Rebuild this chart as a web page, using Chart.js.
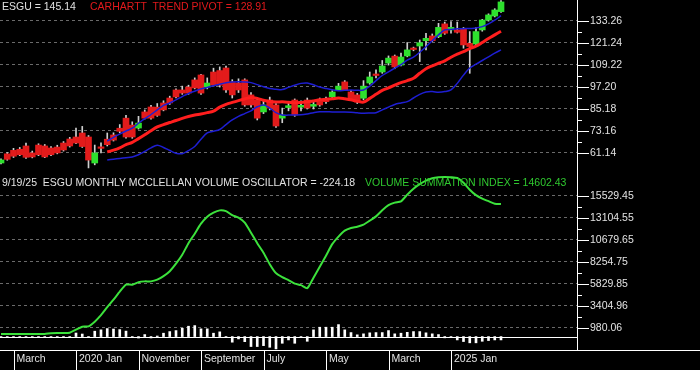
<!DOCTYPE html>
<html>
<head>
<meta charset="utf-8">
<title>ESGU monthly</title>
<script src="https://cdn.jsdelivr.net/npm/chart.js@4.4.1/dist/chart.umd.min.js"></script>
<style>
  html, body { margin: 0; padding: 0; background: #000; }
  #wrap { position: relative; width: 700px; height: 370px; overflow: hidden; background: #000;
          font-family: Arial, "Liberation Sans", sans-serif; }
  #priceChart { position: absolute; left: 0; top: 0; }
  #volChart { position: absolute; left: 0; top: 172px; }
  .cap { position: absolute; font-size: 10.5px; line-height: 12px; white-space: pre; }
</style>
</head>
<body>
<div id="wrap">
  <canvas id="priceChart" width="700" height="172"></canvas>
  <canvas id="volChart" width="700" height="198"></canvas>
  <div class="cap" style="left:2px;top:0px;color:#e2e2e2">ESGU = 145.14</div>
  <div class="cap" style="left:90px;top:0px;color:#e3191c">CARHARTT  TREND PIVOT = 128.91</div>
  <div class="cap" style="left:2px;top:176px;color:#e2e2e2">9/19/25  ESGU MONTHLY MCCLELLAN VOLUME OSCILLATOR = -224.18</div>
  <div class="cap" style="left:365px;top:176px;color:#2fc82f">VOLUME SUMMATION INDEX = 14602.43</div>
</div>
<script>
// Monthly bars, Jan 2019 .. Sep 2025
const months = [];
for (let i = 0; i < 81; i++) {
  months.push((2019 + Math.floor(i / 12)) + '-' + String(i % 12 + 1).padStart(2, '0'));
}

const xTickMonths = [2, 12, 22, 32, 42, 52, 62, 72];
const xTickLabels = ['March', '2020 Jan', 'November', 'September', 'July', 'May', 'March', '2025 Jan'];

const priceTicks = [61.14, 73.16, 85.18, 97.20, 109.22, 121.24, 133.26];
const priceTickLabels = ['61.14', '73.16', '85.18', '97.20', '109.22', '121.24', '133.26'];
const volTicks = [980.06, 3404.96, 5829.85, 8254.75, 10679.65, 13104.55, 15529.45];
const volTickLabels = ['980.06', '3404.96', '5829.85', '8254.75', '10679.65', '13104.55', '15529.45'];

const opens = [
  55.5, 60.5, 62.4, 63.0, 64.8, 61.0, 65.3, 64.8, 63.7, 64.2,
  66.4, 68.6, 69.7, 71.9, 69.7, 55.5, 64.0, 68.5, 70.8, 74.5,
  80.0, 76.2, 74.6, 83.4, 86.1, 86.0, 88.3, 91.0, 95.4, 95.4,
  97.0, 100.9, 103.6, 97.0, 105.2, 106.0, 107.4, 99.8, 99.2, 100.9,
  92.7, 89.9, 83.4, 89.9, 87.2, 80.0, 85.8, 89.9, 86.0, 89.9,
  86.5, 89.9, 90.5, 91.6, 95.4, 99.8, 94.3, 92.7, 90.9, 99.2,
  103.9, 105.2, 110.1, 113.9, 109.0, 114.0, 118.1, 119.4, 122.3, 124.9,
  124.5, 131.5, 128.2, 128.2, 128.6, 120.9, 120.5, 128.2, 133.6, 135.8,
  138.2
];
const highs = [
  57.8, 61.2, 63.5, 64.0, 66.4, 62.0, 66.0, 65.6, 64.5, 65.2,
  67.2, 69.5, 74.6, 75.5, 70.5, 65.3, 66.5, 71.9, 72.0, 76.5,
  81.5, 78.0, 81.0, 84.5, 87.0, 88.0, 89.5, 92.0, 96.0, 97.5,
  98.0, 102.0, 104.0, 102.0, 107.3, 108.0, 108.5, 101.0, 101.5, 101.5,
  94.0, 91.0, 90.0, 91.5, 88.0, 85.5, 89.0, 90.5, 89.5, 91.0,
  89.0, 91.0, 91.5, 95.0, 99.0, 100.5, 95.0, 93.5, 100.5, 105.2,
  106.4, 111.5, 114.0, 114.5, 115.5, 121.3, 118.8, 122.7, 126.4, 126.0,
  131.8, 132.5, 132.7, 132.5, 129.5, 127.3, 129.5, 134.0, 137.0, 139.8,
  144.3
];
const lows = [
  55.0, 57.0, 58.5, 59.5, 58.0, 58.3, 59.5, 58.4, 59.5, 60.5,
  62.0, 64.2, 66.0, 64.0, 52.8, 54.5, 61.0, 64.8, 67.5, 72.0,
  69.0, 69.0, 74.0, 79.5, 79.5, 81.0, 84.0, 87.5, 91.0, 93.0,
  93.0, 96.0, 93.0, 96.0, 97.5, 97.0, 94.0, 91.0, 94.0, 86.5,
  86.0, 79.0, 82.5, 84.5, 75.0, 77.5, 84.0, 81.0, 84.0, 85.0,
  85.0, 86.5, 88.0, 91.0, 95.0, 95.0, 89.5, 88.0, 90.0, 98.5,
  102.0, 104.5, 109.0, 107.0, 108.5, 113.5, 116.8, 110.9, 117.3, 121.8,
  124.0, 125.8, 126.4, 126.5, 118.2, 104.5, 120.0, 127.5, 133.0, 135.3,
  137.8
];
const closes = [
  57.2, 57.5, 59.2, 60.0, 58.6, 58.8, 60.0, 58.8, 60.0, 61.0,
  62.6, 64.8, 66.4, 64.5, 57.1, 61.0, 63.5, 65.5, 68.0, 72.8,
  69.7, 69.7, 77.3, 80.0, 80.0, 81.5, 84.5, 88.3, 91.6, 93.7,
  93.7, 96.5, 93.7, 99.2, 98.1, 98.0, 95.4, 92.7, 95.4, 87.2,
  87.2, 80.0, 87.2, 85.5, 75.7, 81.7, 86.8, 81.7, 87.0, 85.5,
  87.5, 87.2, 89.0, 94.3, 97.5, 95.4, 90.0, 88.8, 97.5, 102.5,
  103.3, 108.5, 112.8, 108.0, 113.4, 117.3, 117.5, 121.2, 123.6, 122.3,
  129.6, 126.4, 129.6, 126.9, 120.0, 119.1, 127.3, 133.6, 136.4, 139.1,
  143.5
];

// Trend pivot and bands start with the Jun 2020 bar
const bandStart = 17;
const trendPivot = [
  61.5, 62.5, 63.8, 65.5, 66.8, 68.8, 70.9, 73.1, 75.2, 76.5, 77.6, 78.7, 79.9, 80.9, 81.7, 82.3,
  83.0, 83.8, 86.0, 87.5, 88.6, 89.6, 90.5, 91.3, 90.8, 89.8, 89.1, 88.8, 88.9, 88.7, 88.4, 88.6,
  88.9, 89.4, 90.0, 90.3, 90.6, 91.0, 90.6, 90.0, 89.3, 88.8, 90.8, 93.0, 95.2, 96.5, 98.0, 99.4,
  100.5, 101.8, 104.5, 107.0, 108.6, 110.0, 111.3, 113.3, 115.0, 116.3, 118.0, 119.3, 121.3, 123.5, 125.5, 127.5
];
const upperBand = [
  67.5, 69.5, 71.3, 73.0, 74.5, 77.2, 79.7, 82.0, 84.5, 87.0, 88.3, 90.0, 91.8, 93.5, 94.7, 96.0,
  96.8, 97.7, 98.5, 99.3, 99.8, 99.9, 99.8, 99.4, 98.3, 97.2, 96.2, 95.8, 95.6, 96.8, 98.0, 99.0,
  99.2, 98.2, 97.0, 96.2, 95.5, 95.0, 95.2, 95.4, 95.2, 95.4, 97.5, 100.5, 103.3, 105.3, 107.3, 109.3,
  111.7, 113.3, 116.0, 119.0, 122.3, 125.5, 128.2, 128.5, 128.8, 128.9, 129.0, 129.2, 130.0, 131.5, 133.5, 136.0
];
const lowerBand = [
  57.2, 57.6, 58.0, 58.4, 58.8, 60.0, 61.8, 63.8, 65.2, 64.0, 62.3, 60.8, 60.6, 62.3, 64.5, 68.5,
  71.9, 72.8, 73.8, 76.5, 79.0, 81.0, 82.5, 84.0, 86.2, 87.2, 85.5, 83.0, 81.7, 81.7, 81.7, 81.8,
  82.3, 83.0, 83.5, 83.5, 83.4, 83.4, 83.4, 83.2, 82.9, 82.7, 82.8, 83.0, 84.5, 86.0, 87.5, 88.3,
  89.0, 91.0, 93.0, 94.3, 94.5, 94.2, 94.5, 95.5, 99.0, 103.5, 107.4, 109.5, 111.5, 113.5, 115.5, 117.3
];

const volumeSummation = [
  286, 286, 286, 286, 286, 286, 286, 286, 374, 395,
  395, 430, 760, 1090, 1123, 1641, 2358, 3240, 4066, 4948,
  5720, 5720, 5995, 6083, 6083, 6270, 6656, 7207, 8034, 9026,
  10293, 11340, 12442, 13214, 13655, 13908, 13820, 13379, 13104, 12553,
  11451, 10293, 9246, 7979, 6987, 6546, 6215, 5830, 5664, 5334,
  6491, 7703, 8916, 10183, 11010, 11671, 11969, 12112, 12332, 12773,
  13247, 13930, 14481, 14758, 14901, 15639, 16300, 16796, 17182, 17457,
  17568, 17590, 17568, 17480, 16962, 16190, 15584, 15198, 14922, 14647,
  14602
];
const oscillator = [
  -110, -110, -110, -110, -110, -110, -110, -110, -110, -110,
  -110, -110, 390, 280, -110, 590, 740, 880, 830, 770,
  600, -80, -160, 220, -150, 60, 370, 550, 660, 920,
  1140, 1210, 850, 850, 370, 520, -60, -620, -260, -560,
  -1100, -1100, -1000, -1180, -1360, -740, -370, -740, -110, -520,
  740, 1030, 1030, 1030, 1320, 740, 440, 190, 300, 410,
  440, 440, 660, 300, 370, 470, 550, 550, 410, 300,
  220, -140, -80, -370, -550, -690, -690, -520, -440, -370,
  -370
];

const FONT = 'Arial, "Liberation Sans", sans-serif';
Chart.defaults.font.family = FONT;

// right-hand tick marks, zero line, bottom axis line and date separators
const axisMarks = {
  id: 'axisMarks',
  afterDraw(chart, args, opts) {
    const ctx = chart.ctx;
    const area = chart.chartArea;
    const ys = chart.scales.y;
    const r = Math.round(area.right);
    ctx.save();
    ctx.strokeStyle = '#ffffff';
    ctx.lineWidth = 1;
    ctx.beginPath();
    opts.ticks.forEach(function(v, k) {
      const p = Math.round(ys.getPixelForValue(v)) + 0.5;
      ctx.moveTo(r, p);
      ctx.lineTo(r + 12, p);
      if (k + 1 < opts.ticks.length) {
        const m = Math.round(ys.getPixelForValue((v + opts.ticks[k + 1]) / 2)) + 0.5;
        ctx.moveTo(r, m);
        ctx.lineTo(r + 5, m);
      }
    });
    if (opts.zeroLine) {
      const z = Math.round(ys.getPixelForValue(0)) + 0.5;
      ctx.moveTo(area.left, z);
      ctx.lineTo(r, z);
    }
    if (opts.dateTicks) {
      const xs = chart.scales.x;
      const b = Math.round(area.bottom) + 0.5;
      ctx.moveTo(0, b);
      ctx.lineTo(chart.width, b);
      opts.dateTicks.forEach(function(v) {
        const p = Math.round(xs.getPixelForValue(v)) + 0.5;
        ctx.moveTo(p, b);
        ctx.lineTo(p, chart.height);
      });
    }
    ctx.stroke();
    ctx.restore();
  }
};

function yAxis(min, max, ticks, labels) {
  return {
    position: 'right',
    min: min,
    max: max,
    afterFit: function(scale) {
      scale.width = 123;
      // the label padding is meant sideways only
      scale.paddingTop = 0;
      scale.paddingBottom = 0;
    },
    afterBuildTicks: function(scale) { scale.ticks = ticks.map(function(v) { return {value: v}; }); },
    ticks: {
      callback: function(value, index) { return labels[index]; },
      color: '#e2e2e2',
      font: {size: 10.5},
      padding: 13
    },
    grid: {color: '#6a6a6a', lineWidth: 1, drawTicks: false},
    border: {display: true, color: '#ffffff', width: 1, dash: [3, 3]}
  };
}

const xRange = {min: -0.16, max: 92.16};
const candleColors = closes.map(function(c, i) { return c >= opens[i] ? '#2ee02e' : '#e21b1b'; });

function bandPoints(values) {
  return values.map(function(v, k) { return {x: bandStart + k, y: v}; });
}

new Chart(document.getElementById('priceChart'), {
  type: 'line',
  data: {
    datasets: [
      {
        label: 'Upper band',
        data: bandPoints(upperBand),
        borderColor: '#1e1ed2',
        borderWidth: 1.5,
        pointRadius: 0,
        tension: 0.35,
        order: 0
      },
      {
        label: 'Lower band',
        data: bandPoints(lowerBand),
        borderColor: '#1e1ed2',
        borderWidth: 1.5,
        pointRadius: 0,
        tension: 0.35,
        order: 0
      },
      {
        label: 'Carhartt trend pivot',
        data: bandPoints(trendPivot),
        borderColor: '#ff1e1e',
        borderWidth: 3,
        pointRadius: 0,
        tension: 0.35,
        order: 1
      },
      {
        type: 'bar',
        label: 'Body',
        data: months.map(function(m, i) { return {x: i, y: [opens[i], closes[i]]}; }),
        backgroundColor: candleColors,
        barThickness: 6,
        minBarLength: 1.5,
        grouped: false,
        order: 2
      },
      {
        type: 'bar',
        label: 'Range',
        data: months.map(function(m, i) { return {x: i, y: [lows[i], highs[i]]}; }),
        backgroundColor: '#cfcfcf',
        barThickness: 1,
        grouped: false,
        order: 3
      }
    ]
  },
  options: {
    responsive: false,
    animation: false,
    events: [],
    layout: {padding: 0},
    plugins: {
      legend: {display: false},
      tooltip: {enabled: false},
      axisMarks: {ticks: priceTicks}
    },
    scales: {
      x: {type: 'linear', display: false, min: xRange.min, max: xRange.max, offset: false},
      y: yAxis(50.58, 144.55, priceTicks, priceTickLabels)
    }
  },
  plugins: [axisMarks]
});

new Chart(document.getElementById('volChart'), {
  type: 'line',
  data: {
    datasets: [
      {
        label: 'Volume summation index',
        data: volumeSummation.map(function(v, i) { return {x: i, y: v}; }),
        borderColor: '#3ce23c',
        borderWidth: 2,
        pointRadius: 0,
        tension: 0.2,
        order: 0
      },
      {
        type: 'bar',
        label: 'McClellan volume oscillator',
        data: oscillator.map(function(v, i) { return {x: i, y: v}; }),
        backgroundColor: '#ffffff',
        barThickness: 2,
        grouped: false,
        order: 1
      }
    ]
  },
  options: {
    responsive: false,
    animation: false,
    events: [],
    layout: {padding: 0},
    plugins: {
      legend: {display: false},
      tooltip: {enabled: false},
      axisMarks: {ticks: volTicks, zeroLine: true, dateTicks: xTickMonths}
    },
    scales: {
      x: {
        type: 'linear',
        min: xRange.min,
        max: xRange.max,
        offset: false,
        afterFit: function(scale) { scale.height = 20; },
        afterBuildTicks: function(scale) { scale.ticks = xTickMonths.map(function(v) { return {value: v}; }); },
        ticks: {
          callback: function(value, index) { return xTickLabels[index]; },
          align: 'start',
          labelOffset: 3,
          padding: 3,
          autoSkip: false,
          maxRotation: 0,
          color: '#e2e2e2',
          font: {size: 10.5}
        },
        grid: {display: false, drawTicks: false},
        border: {display: false}
      },
      y: yAxis(-1481, 18138, volTicks, volTickLabels)
    }
  },
  plugins: [axisMarks]
});
</script>
</body>
</html>
